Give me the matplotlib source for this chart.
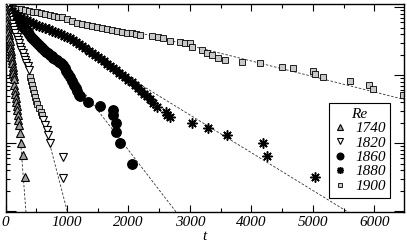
import matplotlib
matplotlib.use("Agg")
import matplotlib.pyplot as plt
import numpy as np

# ---- data (survival probability P(t)) ----
t1740 = [0, 6, 12, 18, 24, 30, 36, 42, 48, 54, 60, 66, 72, 78, 84, 90, 96, 102, 108, 114, 120, 126, 132, 138,
         138, 154, 154, 171, 171, 187, 187, 203, 203, 220, 236, 252, 285, 317]
p1740 = [1, 0.899, 0.809, 0.727, 0.654, 0.589, 0.530, 0.476, 0.428, 0.385, 0.347, 0.312, 0.280, 0.252,
         0.2267, 0.204, 0.1834, 0.165, 0.148, 0.1334, 0.120, 0.108, 0.097, 0.0873,
         0.0713, 0.0602, 0.0526, 0.0459, 0.0401, 0.035, 0.0306, 0.0258, 0.0218, 0.0184, 0.0140, 0.01,
         0.00667, 0.00316]

t1820 = [0, 20, 40, 60, 80, 100, 120, 140, 160, 180, 200, 220, 240, 260, 280, 300, 320, 340, 360, 380,
         610, 642, 675, 691, 724, 935, 935]
p1820 = [1, 0.894, 0.800, 0.715, 0.640, 0.572, 0.512, 0.458, 0.409, 0.366, 0.327, 0.293, 0.262, 0.234,
         0.2094, 0.187, 0.1675, 0.150, 0.134, 0.120,
         0.0218, 0.0184, 0.0155, 0.0131, 0.01, 0.00622, 0.00306]

# grey square points lying on the 1820 curve
tsq = [398, 415, 431, 447, 463, 480, 496, 512, 545, 577, 593]
psq = [0.0935, 0.0816, 0.0713, 0.0622, 0.0544, 0.0475, 0.0415, 0.0375, 0.0327, 0.0286, 0.0258]

t1860 = [0, 30, 60, 90, 120, 150, 180, 210, 240, 270, 300, 330, 360, 390, 420, 450, 480, 510, 540, 570,
         600, 630, 660, 690, 720, 750, 780, 810, 840, 870, 900, 930, 960, 990, 1020, 1050, 1080, 1110,
         1140, 1170, 1200, 1211, 1341, 1537, 1748, 1748, 1797, 1797, 1862, 2057]
p1860 = [1, 0.929, 0.864, 0.803, 0.746, 0.694, 0.645, 0.600, 0.557, 0.520, 0.486, 0.453, 0.423, 0.395,
         0.368, 0.344, 0.322, 0.301, 0.280, 0.2625, 0.248, 0.235, 0.222, 0.210, 0.198, 0.189, 0.180,
         0.172, 0.1645, 0.157, 0.150, 0.140, 0.1276, 0.116, 0.105, 0.0929, 0.0822, 0.0725, 0.0646,
         0.0575, 0.0513, 0.0491, 0.0401, 0.035, 0.0306, 0.0258, 0.0197, 0.0145, 0.01, 0.0049]

t1880 = [0, 50, 100, 150, 200, 250, 300, 350, 400, 450, 500, 550, 600, 650, 700, 750, 800, 850, 900, 950,
         1000, 1050, 1100, 1150, 1200, 1250, 1300, 1350, 1400, 1450, 1500, 1550, 1600, 1650, 1700, 1750,
         1800, 1850, 1900, 1950, 2000, 2050, 2100, 2150, 2200, 2250, 2300, 2350,
         2399, 2463, 2610, 2626, 2675, 3033, 3293, 3602, 4187, 4252, 5033]
p1880 = [1, 0.931, 0.868, 0.805, 0.750, 0.703, 0.671, 0.637, 0.608, 0.580, 0.553, 0.531, 0.508, 0.488,
         0.469, 0.450, 0.432, 0.413, 0.397, 0.380, 0.365, 0.350, 0.328, 0.309, 0.290, 0.268, 0.246, 0.227,
         0.2106, 0.198, 0.1865, 0.174, 0.160, 0.147, 0.1356, 0.126, 0.117, 0.1088, 0.1003, 0.0925, 0.085,
         0.0778, 0.0708, 0.0646, 0.0588, 0.0535, 0.0488, 0.0444,
         0.0388, 0.0338, 0.0285, 0.0258, 0.0241, 0.0197, 0.0166, 0.0131, 0.0100, 0.0064, 0.0032]

t1900 = [8, 57, 122, 187, 252, 317, 382, 447, 512, 577, 642, 724, 789, 854, 919, 1000, 1081, 1163, 1244,
         1325, 1407, 1488, 1569, 1650, 1732, 1813, 1894, 1976, 2065, 2122, 2187, 2382, 2480, 2561, 2675,
         2838, 2919, 3000, 3032, 3195, 3276, 3358, 3455, 3569, 3845, 4138, 4496, 4675, 5000, 5033, 5163,
         5602, 5911, 5976, 6463]
p1900 = [1, 1, 0.967, 0.935, 0.935, 0.904, 0.873, 0.844, 0.844, 0.816, 0.789, 0.763, 0.737, 0.713, 0.713,
         0.666, 0.622, 0.582, 0.563, 0.544, 0.526, 0.508, 0.491, 0.475, 0.459, 0.444, 0.429, 0.415, 0.415,
         0.401, 0.387, 0.375, 0.362, 0.350, 0.316, 0.306, 0.295, 0.295, 0.258, 0.233, 0.211, 0.197, 0.178,
         0.166, 0.155, 0.150, 0.131, 0.127, 0.115, 0.104, 0.0935, 0.0816, 0.0713, 0.0623, 0.0509]

# exponential fits P = A exp(-t/tau)
fit_A = [8.2, 3.05, 1.75, 1.2, 1.31]
fit_tau = [36.8, 125, 370, 782, 1907]
fit_t0 = [180, 600, 1300, 1700, 2000]
fit_t1 = [340, 1010, 2800, 5650, 6480]

x_ticks = [0, 1000, 2000, 3000, 4000, 5000, 6000]
labels = ["1740", "1820", "1860", "1880", "1900"]

# ---- figure ----
fig = plt.figure(figsize=(4.07, 2.43), dpi=100)
ax = fig.add_axes([5.5 / 407, 31 / 243, 398.5 / 407, 207.5 / 243])
ax.set_yscale("log")

for A, tau, a, b in zip(fit_A, fit_tau, fit_t0, fit_t1):
    tt = np.linspace(a, b, 100)
    ax.plot(tt, A * np.exp(-tt / tau), ls=(0, (3, 2)), color="#333333", lw=0.6, zorder=1)

ax.plot(tsq, psq, ls="none", marker="s", ms=4.8, mfc="#c8c8c8", mec="black", mew=0.6, zorder=2)
ax.plot(t1900, p1900, ls="none", marker="s", ms=4.8, mfc="#c8c8c8", mec="black", mew=0.6, zorder=2, label=labels[4])
ax.plot(t1880, p1880, ls="none", marker=(8, 2, 0), ms=7.2, mec="black", mew=1.1, zorder=3, label=labels[3])
ax.plot(t1860, p1860, ls="none", marker="o", ms=6.8, mfc="black", mec="black", zorder=3, label=labels[2])
ax.plot(t1820, p1820, ls="none", marker="v", ms=5.8, mfc="white", mec="black", mew=0.8, zorder=3, label=labels[1])
ax.plot(t1740, p1740, ls="none", marker="^", ms=5.8, mfc="#a0a0a0", mec="black", mew=0.8, zorder=3, label=labels[0])

ax.set_xlim(0, 6480)
ax.set_ylim(0.00097, 1.09)
ax.set_xticks(x_ticks)
ax.set_xticks(np.arange(500, 6480, 1000), minor=True)
ax.set_xticklabels([str(v) for v in x_ticks], fontfamily="Liberation Serif", fontstyle="italic", fontsize=11)
ax.yaxis.set_major_formatter(matplotlib.ticker.NullFormatter())
ax.yaxis.set_minor_formatter(matplotlib.ticker.NullFormatter())
ax.tick_params(which="both", direction="in", top=True, right=True, width=0.8)
ax.tick_params(which="major", length=5, pad=3)
ax.tick_params(which="minor", length=3)
ax.tick_params(axis="y", which="major", length=7)
for s in ax.spines.values():
    s.set_linewidth(1.0)
ax.set_xlabel("t", fontfamily="Liberation Serif", fontstyle="italic", fontsize=11, labelpad=0.5)

h, l = ax.get_legend_handles_labels()
hd = dict(zip(l, h))
leg = ax.legend([hd[k] for k in labels], labels, title="Re", loc="upper left",
                bbox_to_anchor=(0.812, 0.525), borderaxespad=0, frameon=True, fancybox=False,
                edgecolor="black", framealpha=1, handlelength=0.8, handletextpad=0.6,
                labelspacing=0.05, borderpad=0.3, markerscale=0.7,
                prop={"family": "Liberation Serif", "style": "italic", "size": 11})
leg.get_title().set_fontfamily("Liberation Serif")
leg.get_title().set_fontstyle("italic")
leg.get_title().set_fontsize(11)
leg.get_frame().set_linewidth(0.8)

fig.savefig("out.png", dpi=100)
